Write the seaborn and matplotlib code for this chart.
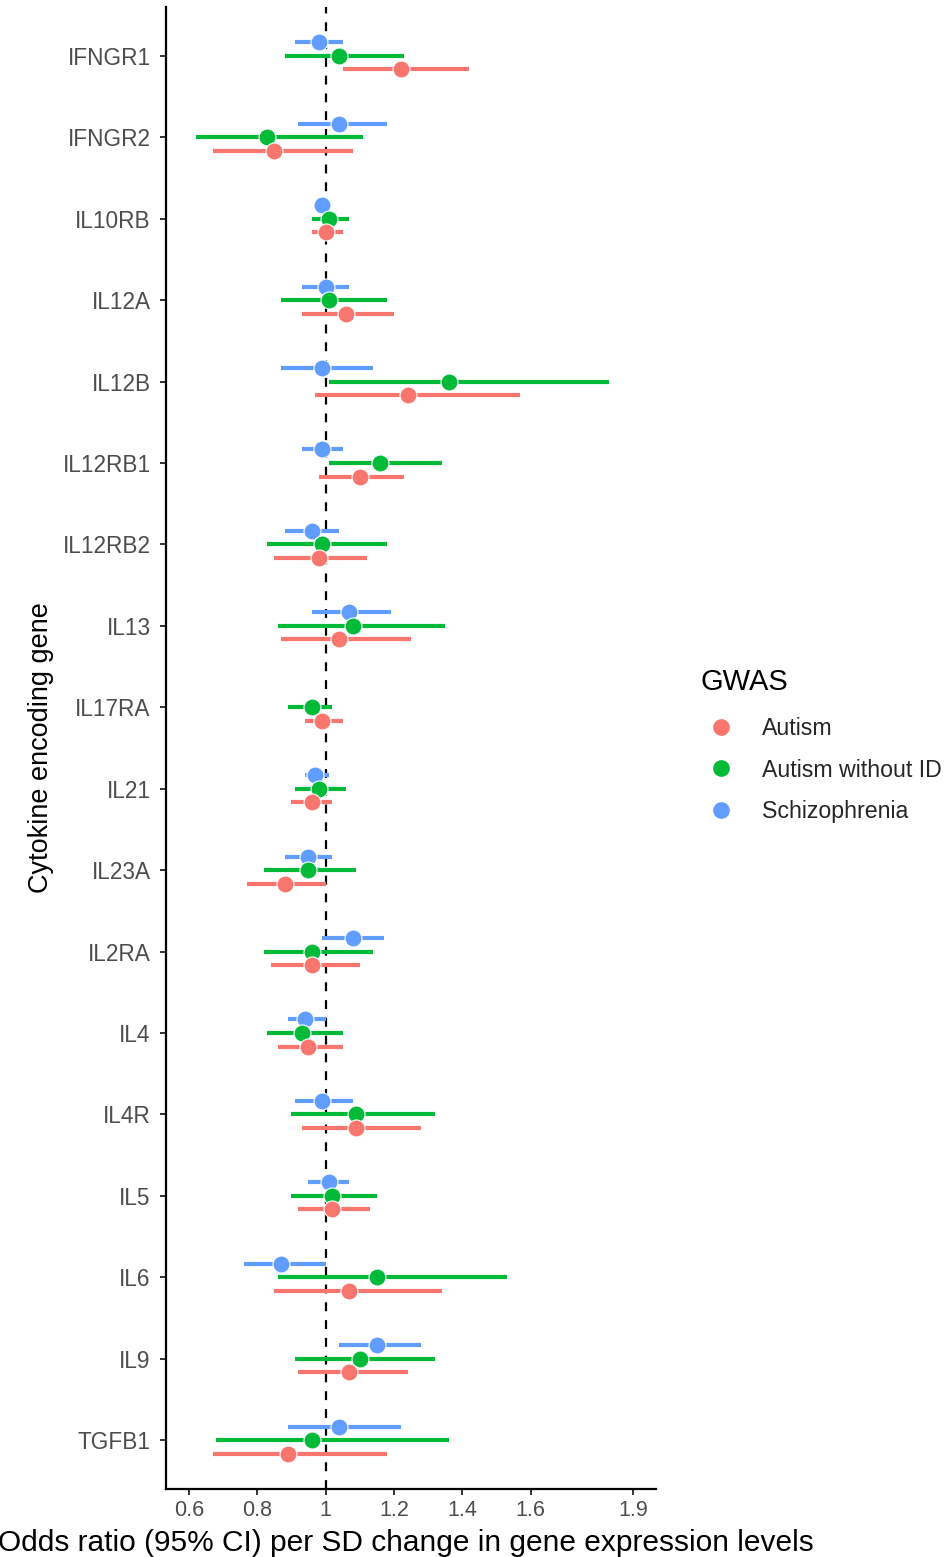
import numpy as np
import pandas as pd
import matplotlib
matplotlib.use("Agg")
import matplotlib.pyplot as plt
import seaborn as sns

# Cytokine genes, top to bottom
genes = ["IFNGR1", "IFNGR2", "IL10RB", "IL12A", "IL12B", "IL12RB1", "IL12RB2",
         "IL13", "IL17RA", "IL21", "IL23A", "IL2RA", "IL4", "IL4R", "IL5",
         "IL6", "IL9", "TGFB1"]

gwas_levels = ["Autism", "Autism without ID", "Schizophrenia"]

# Odds ratios with 95% CI per GWAS (NaN = gene not available)
autism_or = [1.22, 0.85, 1.00, 1.06, 1.24, 1.10, 0.98, 1.04, 0.99, 0.96, 0.88,
             0.96, 0.95, 1.09, 1.02, 1.07, 1.07, 0.89]
autism_lo = [1.05, 0.67, 0.96, 0.93, 0.97, 0.98, 0.85, 0.87, 0.94, 0.90, 0.77,
             0.84, 0.86, 0.93, 0.92, 0.85, 0.92, 0.67]
autism_hi = [1.42, 1.08, 1.05, 1.20, 1.57, 1.23, 1.12, 1.25, 1.05, 1.02, 1.00,
             1.10, 1.05, 1.28, 1.13, 1.34, 1.24, 1.18]

noid_or = [1.04, 0.83, 1.01, 1.01, 1.36, 1.16, 0.99, 1.08, 0.96, 0.98, 0.95,
           0.96, 0.93, 1.09, 1.02, 1.15, 1.10, 0.96]
noid_lo = [0.88, 0.62, 0.96, 0.87, 1.01, 1.01, 0.83, 0.86, 0.89, 0.91, 0.82,
           0.82, 0.83, 0.90, 0.90, 0.86, 0.91, 0.68]
noid_hi = [1.23, 1.11, 1.07, 1.18, 1.83, 1.34, 1.18, 1.35, 1.02, 1.06, 1.09,
           1.14, 1.05, 1.32, 1.15, 1.53, 1.32, 1.36]

scz_or = [0.98, 1.04, 0.99, 1.00, 0.99, 0.99, 0.96, 1.07, np.nan, 0.97, 0.95,
          1.08, 0.94, 0.99, 1.01, 0.87, 1.15, 1.04]
scz_lo = [0.91, 0.92, 0.975, 0.93, 0.87, 0.93, 0.88, 0.96, np.nan, 0.94, 0.88,
          0.99, 0.89, 0.91, 0.95, 0.76, 1.04, 0.89]
scz_hi = [1.05, 1.18, 1.01, 1.07, 1.14, 1.05, 1.04, 1.19, np.nan, 1.01, 1.02,
          1.17, 1.00, 1.08, 1.07, 1.00, 1.28, 1.22]

x_ticks = [0.6, 0.8, 1, 1.2, 1.4, 1.6, 1.9]
x_ticklabels = ["0.6", "0.8", "1", "1.2", "1.4", "1.6", "1.9"]

palette = {"Autism": "#F8766D", "Autism without ID": "#00BA38",
           "Schizophrenia": "#619CFF"}

# Long-format table
rows = []
series = {"Autism": (autism_or, autism_lo, autism_hi),
          "Autism without ID": (noid_or, noid_lo, noid_hi),
          "Schizophrenia": (scz_or, scz_lo, scz_hi)}
for g, (ors, los, his) in series.items():
    for i, gene in enumerate(genes):
        rows.append({"gene": gene, "gwas": g, "idx": i,
                     "or": ors[i], "lo": los[i], "hi": his[i]})
df = pd.DataFrame(rows).dropna()

# Dodge: schizophrenia above, autism below the gene line
dodge = {"Schizophrenia": -1 / 6, "Autism without ID": 0.0, "Autism": 1 / 6}
df["ypos"] = df["idx"] + df["gwas"].map(dodge)

sns.set_theme(style="white")
plt.rcParams["font.family"] = ["Liberation Sans", "DejaVu Sans"]

fig = plt.figure(figsize=(9.48, 15.57), dpi=100)
ax = fig.add_axes([0.1751, 0.0437, 0.692 - 0.1751, 0.9955 - 0.0437])

ax.axvline(1, color="black", linewidth=1.6, linestyle=(0, (4, 4)), zorder=1)

draw_order = ["Schizophrenia", "Autism without ID", "Autism"]
for g in draw_order:
    sub = df[df["gwas"] == g]
    ax.hlines(sub["ypos"], sub["lo"], sub["hi"], color=palette[g],
              linewidth=3.0, zorder=2)
    sns.scatterplot(data=sub, x="or", y="ypos", color=palette[g], s=150,
                    edgecolor="white", linewidth=0.8, zorder=3, ax=ax,
                    legend=False)

ax.set_ylim(len(genes) - 1 + 0.6, -0.6)
ax.set_xlim(0.533, 1.967)
ax.set_yticks(range(len(genes)))
ax.set_yticklabels(genes)
ax.set_xticks(x_ticks)
ax.set_xticklabels(x_ticklabels)

for side in ["top", "right"]:
    ax.spines[side].set_visible(False)
for side in ["left", "bottom"]:
    ax.spines[side].set_color("black")
    ax.spines[side].set_linewidth(1.6)

ax.tick_params(axis="both", which="major", length=4, width=1.4,
               color="#333333", labelcolor="#4D4D4D", labelsize=15.5, pad=4,
               left=True, bottom=True)
ax.tick_params(axis="y", labelsize=16.3, pad=7)

ax.set_xlabel("Odds ratio (95% CI) per SD change in gene expression levels",
              fontsize=21.5, color="black")
ax.set_ylabel("Cytokine encoding gene", fontsize=19.5, color="black")
ax.xaxis.set_label_coords(0.49, -0.027)
ax.yaxis.set_label_coords(-0.229, 0.5)

# Legend: title placed as its own text above the key entries
handles = [plt.Line2D([], [], marker="o", linestyle="", markersize=11,
                      markerfacecolor=palette[g], markeredgecolor=palette[g])
           for g in gwas_levels]
fig.legend(handles, gwas_levels, loc="upper left",
           bbox_to_anchor=(0.7265, 0.5453), frameon=False,
           fontsize=16.7, handletextpad=0.75,
           labelspacing=0.79, borderaxespad=0)
fig.text(700 / 948, 1 - 682 / 1557, "GWAS", fontsize=21, va="center",
         ha="left", color="black")

fig.savefig("out.png", dpi=100)
